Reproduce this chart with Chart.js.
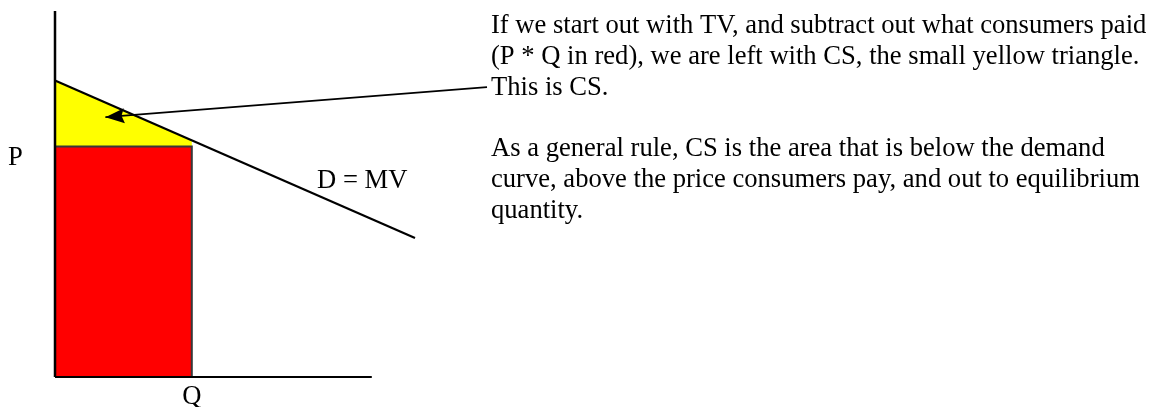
<!DOCTYPE html>
<html>
<head>
<meta charset="utf-8">
<script src="https://cdn.jsdelivr.net/npm/chart.js@4/dist/chart.umd.min.js"></script>
<style>
  html, body { margin: 0; padding: 0; background: #ffffff; }
  #wrap { width: 1164px; height: 407px; }
</style>
</head>
<body>
<div id="wrap"><canvas id="cs_chart" width="1164" height="407"></canvas></div>
<script>
// Demand curve D = MV (price falls as quantity rises)
var demand_points = [{x: 0, y: 81}, {x: 100, y: 38}];
// Equilibrium quantity and price consumers pay
var eq_quantity = 38;
var eq_price = 63;
// Demand value at the equilibrium quantity
var demand_at_q = 64.7;
// Axis extents
var y_axis_points = [{x: 0, y: 0}, {x: 0, y: 100}];
var x_axis_points = [{x: 0, y: 0}, {x: 88, y: 0}];
// Pointer from the note to the consumer surplus triangle (tail -> tip)
var pointer_points = [{x: 120, y: 79.2}, {x: 14, y: 71}];

// Axis and curve labels
var axis_labels = [
    {text: 'P', x: -11, y: eq_price, dy: 19, align: 'center'},
    {text: 'Q', x: eq_quantity, y: 0, dy: 27, align: 'center'},
    {text: 'D = MV', x: 72.8, y: 51.6, dy: 0, align: 'left'}
];

// Side note, one entry per line
var note_lines = [
    'If we start out with TV, and subtract out what consumers paid',
    '(P * Q in red), we are left with CS, the small yellow triangle.',
    'This is CS.',
    '',
    'As a general rule, CS is the area that is below the demand',
    'curve, above the price consumers pay, and out to equilibrium',
    'quantity.'
];

var FONT = '26.6px "Liberation Serif", "Times New Roman", serif';

var paid_area = [
    {x: 0, y: 0}, {x: 0, y: eq_price}, {x: eq_quantity, y: eq_price}, {x: eq_quantity, y: 0}
];
var surplus_area = [
    demand_points[0], {x: eq_quantity, y: demand_at_q}, {x: eq_quantity, y: eq_price}, {x: 0, y: eq_price}
];

var label_plugin = {
    id: 'cs_labels',
    afterDatasetsDraw: function(chart) {
        var ctx = chart.ctx;
        var xs = chart.scales.x, ys = chart.scales.y;

        // arrow head at the end of the pointer dataset
        var meta = chart.getDatasetMeta(5);
        var tail = meta.data[0], tip = meta.data[1];
        var ang = Math.atan2(tip.y - tail.y, tip.x - tail.x);
        var len = 19, half = 7.5;
        var c = Math.cos(ang), s = Math.sin(ang);
        ctx.save();
        ctx.fillStyle = '#000000';
        ctx.beginPath();
        ctx.moveTo(tip.x, tip.y);
        ctx.lineTo(tip.x - len * c + half * s, tip.y - len * s - half * c);
        ctx.lineTo(tip.x - len * 0.85 * c, tip.y - len * 0.85 * s);
        ctx.lineTo(tip.x - len * c - half * s, tip.y - len * s + half * c);
        ctx.closePath();
        ctx.fill();

        ctx.font = FONT;
        ctx.textBaseline = 'alphabetic';
        axis_labels.forEach(function(l) {
            ctx.textAlign = l.align;
            ctx.fillText(l.text, xs.getPixelForValue(l.x), ys.getPixelForValue(l.y) + l.dy);
        });

        ctx.textAlign = 'left';
        for (var i = 0; i < note_lines.length; i++) {
            ctx.fillText(note_lines[i], 491, 33 + i * 30.8);
        }
        ctx.restore();
    }
};

function line_set(points, width, order) {
    return {
        data: points,
        showLine: true,
        borderColor: '#000000',
        borderWidth: width,
        pointRadius: 0,
        fill: false,
        clip: false,
        order: order
    };
}

var chart = new Chart(document.getElementById('cs_chart'), {
    type: 'scatter',
    data: {
        datasets: [
            line_set(y_axis_points, 2.5, 0),
            line_set(x_axis_points, 2, 0),
            line_set(demand_points, 2.2, 0),
            {
                data: paid_area,
                showLine: true,
                borderColor: '#383838',
                borderWidth: 2,
                backgroundColor: '#ff0000',
                pointRadius: 0,
                fill: 'shape',
                clip: false,
                order: 2
            },
            {
                data: surplus_area,
                showLine: true,
                borderWidth: 0,
                borderColor: 'rgba(0,0,0,0)',
                backgroundColor: '#ffff00',
                pointRadius: 0,
                fill: 'shape',
                clip: false,
                order: 3
            },
            line_set(pointer_points, 1.6, 1)
        ]
    },
    options: {
        responsive: false,
        animation: false,
        layout: {padding: {left: 55, right: 29, top: 11, bottom: 30}},
        plugins: {legend: {display: false}, tooltip: {enabled: false}},
        scales: {
            x: {type: 'linear', min: 0, max: 300, display: false},
            y: {type: 'linear', min: 0, max: 100, display: false}
        }
    },
    plugins: [label_plugin]
});
</script>
</body>
</html>
